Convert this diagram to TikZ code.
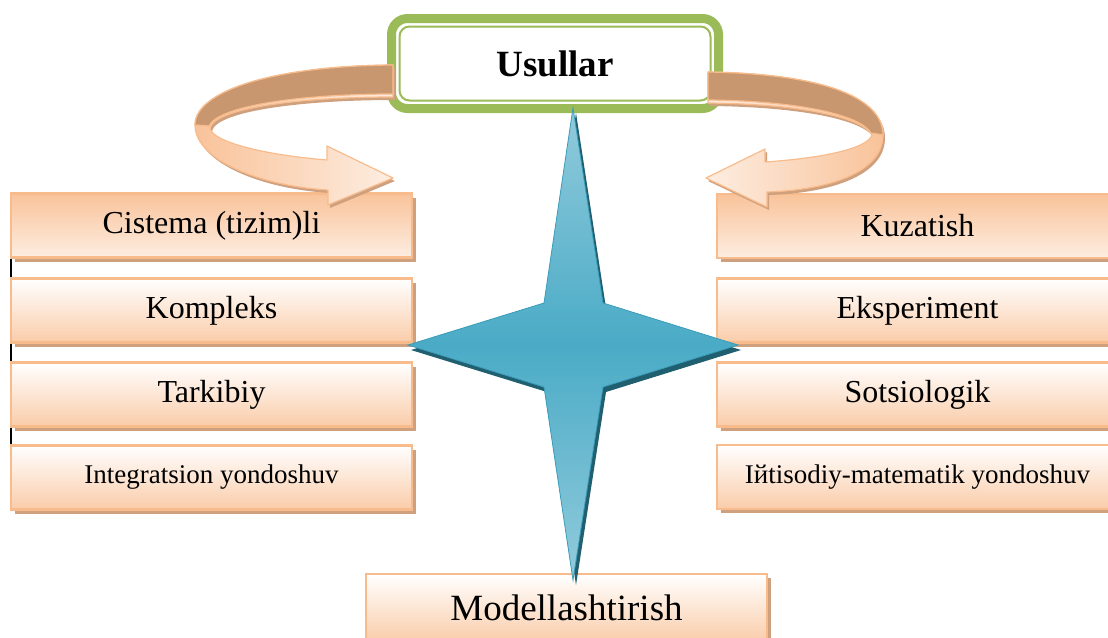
\documentclass[tikz,border=0pt]{standalone}
\usepackage{fontspec}
\setmainfont{Liberation Serif}
\usetikzlibrary{shadows}
\definecolor{peachB}{HTML}{F8BC8C}
\definecolor{peachD}{HTML}{F9C39A}
\definecolor{peachL}{HTML}{FDEDE1}
\definecolor{shadowc}{HTML}{CFA07E}
\definecolor{tanc}{HTML}{C9976F}
\definecolor{grn}{HTML}{9BBB59}
\definecolor{starM}{HTML}{4AABC6}
\definecolor{starL}{HTML}{92CBDC}
\definecolor{starD}{HTML}{1F5F70}
\definecolor{starE}{HTML}{3A9CB8}
\begin{document}
\begin{tikzpicture}[x=1pt,y=-1pt,
  box/.style={draw=peachB, line width=2.5pt, minimum width=401pt, minimum height=64pt,
    inner sep=0pt, font=\fontsize{32}{38}\selectfont,
    general shadow={fill=shadowc, shadow xshift=4pt, shadow yshift=-4pt}},
  boxA/.style={box, top color=peachD, bottom color=peachL},
  boxB/.style={box, top color=white, bottom color=peachD!85!white},
  small/.style={font=\fontsize{27}{32}\selectfont},
  ribbonedge/.style={draw=peachB, line width=1.2pt, line join=round},
  tanface/.style={fill=tanc, draw=peachB, line width=1.2pt, line join=round},
  starshape/.style={draw=starE, line width=0.8pt, top color=starL, bottom color=starL, middle color=starM}]
\useasboundingbox (0,0) rectangle (1108,637);
\clip (0,0) rectangle (1108,637);

% left column
\node[boxA] (c1) at (211.5,225.5) {Cistema (tizim)li};
\node[boxB] (c2) at (211.5,310.5) {Kompleks};
\node[boxB] (c3) at (211.5,394.5) {Tarkibiy};
\node[boxB,small] (c4) at (211.5,477.5) {Integratsion yondoshuv};
\draw[line width=2pt] ([xshift=1.5pt]c1.south west) -- ([xshift=1.5pt]c2.north west);
\draw[line width=2pt] ([xshift=1.5pt]c2.south west) -- ([xshift=1.5pt]c3.north west);
\draw[line width=2pt] ([xshift=1.5pt]c3.south west) -- ([xshift=1.5pt]c4.north west);

% right column
\node[boxA] (r1) at (917.5,226) {Kuzatish};
\node[boxB] (r2) at (917.5,310.5) {Eksperiment};
\node[boxB] (r3) at (917.5,394.5) {Sotsiologik};
\node[boxB,small] (r4) at (917.5,477) {Iйtisodiy-matematik yondoshuv};

% bottom
\node[boxB, font=\fontsize{37}{42}\selectfont, minimum height=68pt] (m) at (566.5,608) {Modellashtirish};

% top box
\node[draw=grn, line width=9pt, rounded corners=16pt, fill=white, minimum width=327pt,
      minimum height=90pt, font=\bfseries\fontsize{37}{42}\selectfont] (u) at (555,63.5) {Usullar};
\draw[grn, line width=2pt, rounded corners=10pt]
  ([shift={(12.5pt,-12.5pt)}]u.north west) rectangle ([shift={(-12.5pt,12.5pt)}]u.south east);

% left ribbon arrow
\begin{scope}[shift={(2,3)}]
\fill[shadowc] (393,65) .. controls (270,66) and (195,92) .. (195,125)
  .. controls (195,160) and (260,186) .. (328,190) -- (328,205) -- (393,178) -- (327,146) -- (327,160)
  .. controls (265,155) and (212,142) .. (210,128) .. controls (215,108) and (300,97) .. (393,97) -- cycle;
\end{scope}
\path[ribbonedge, left color=peachD, right color=peachL]
  (393,65) .. controls (270,66) and (195,92) .. (195,125)
  .. controls (195,160) and (260,186) .. (328,190) -- (328,205) -- (393,178) -- (327,146) -- (327,160)
  .. controls (265,155) and (212,142) .. (210,128) .. controls (215,108) and (300,97) .. (393,97) -- cycle;
\path[tanface] (393,65) .. controls (270,66) and (195,92) .. (195,125) -- (209,126)
  .. controls (218,106) and (300,94) .. (393,94) -- cycle;

% right ribbon arrow
\begin{scope}[shift={(2,3)}]
\fill[shadowc] (708,72) .. controls (830,74) and (883,100) .. (883,135)
  .. controls (883,172) and (830,190) .. (767,192) -- (767,207) -- (706,178) -- (765,149) -- (765,162)
  .. controls (825,158) and (868,148) .. (872,135) .. controls (862,117) and (800,104) .. (708,103) -- cycle;
\end{scope}
\path[ribbonedge, left color=peachL, right color=peachD]
  (708,72) .. controls (830,74) and (883,100) .. (883,135)
  .. controls (883,172) and (830,190) .. (767,192) -- (767,207) -- (706,178) -- (765,149) -- (765,162)
  .. controls (825,158) and (868,148) .. (872,135) .. controls (862,117) and (800,104) .. (708,103) -- cycle;
\path[tanface] (708,72) .. controls (830,74) and (883,100) .. (883,135) -- (871,133)
  .. controls (860,115) and (800,101) .. (708,100) -- cycle;

% star
\begin{scope}[shift={(3,5)}]
\fill[starD] (573,108) -- (603,303) -- (738,345) -- (603,387) -- (573,580) -- (544,387)
  -- (408,345) -- (544,303) -- cycle;
\end{scope}
\path[starshape] (573,108) -- (603,303) -- (738,345) -- (603,387) -- (573,580) -- (544,387)
  -- (408,345) -- (544,303) -- cycle;
\end{tikzpicture}
\end{document}
